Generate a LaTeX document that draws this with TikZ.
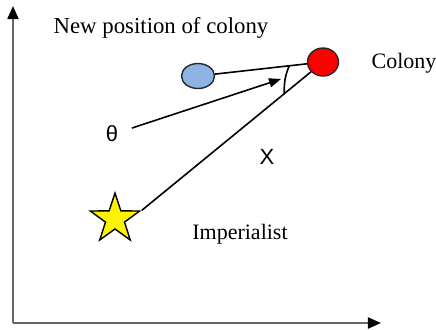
\documentclass[tikz,border=0pt]{standalone}
\usepackage{fontspec}
\setmainfont{Liberation Serif}
\newfontfamily\labelfont{Liberation Sans}
\usepackage{tikz}
\usepackage{xcolor}
\usetikzlibrary{positioning, shapes.geometric, arrows.meta, calc}
\definecolor{colonyblue}{HTML}{8DB3E2}
\definecolor{colonyred}{HTML}{FF0000}
\definecolor{axisgray}{HTML}{666666}

\begin{document}
\begin{tikzpicture}[x=0.5pt, y=-0.5pt,
  txt/.style={font=\fontsize{11}{13}\selectfont, inner sep=0pt, anchor=base},
  sym/.style={font=\labelfont\fontsize{11}{13}\selectfont, inner sep=0pt},
  colony/.style={ellipse, draw=black!85, line width=0.7pt, inner sep=0pt},
  link/.style={line width=0.8pt}
]
  \useasboundingbox (0,0) rectangle (436,329);

  \coordinate (o) at (13,323);
  \coordinate (ytop) at (13,6);
  \coordinate (xend) at (381,323);
  \draw[axisgray, line width=1pt, -{Triangle[length=6.5pt, width=5.5pt, black]}] (o) -- (ytop);
  \draw[axisgray, line width=1pt, -{Triangle[length=6.5pt, width=5.5pt, black]}] (o) -- (xend);

  \node[colony, fill=colonyblue, minimum width=16.5pt, minimum height=12.5pt] (blue) at (198,76) {};
  \node[colony, fill=colonyred, minimum width=15.5pt, minimum height=14pt] (red) at (323,62) {};
  \node[star, star points=5, star point ratio=2.6, draw=black, line width=0.7pt,
        fill=yellow, minimum size=26pt, inner sep=0pt] (imp) at (115,219) {};

  \node[txt, font=\fontsize{11.4}{13}\selectfont] (newpos) at (161,33) {New position of colony};
  \node[txt] (col) at (404,68) {Colony};
  \node[txt] (impl) at (240,239) {Imperialist};
  \node[sym] (theta) at (112,134) {θ};
  \node[sym] (xlab) at (267,157) {X};

  \draw[link] (blue) -- (red);
  \draw[link] (imp.outer point 5) -- (red);

  \coordinate (a1) at ($(red.center)!17pt!(blue.center)$);
  \coordinate (a2) at ($(red.center)!25pt!(imp.outer point 5)$);
  \draw[link] (a1) to[bend right=12] (a2);

  \coordinate (ttail) at (132,128);
  \coordinate (ttip) at (281,79);
  \draw[link, -{Triangle[length=6pt, width=4.5pt]}] (ttail) -- (ttip);
\end{tikzpicture}
\end{document}
